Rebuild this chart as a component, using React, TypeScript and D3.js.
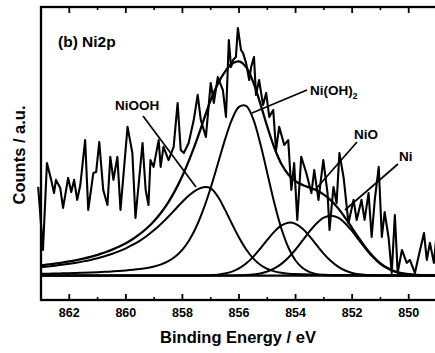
import React from 'react';
import * as d3 from 'd3';

// Fit grid (binding energy, eV)
const energies = [
  863, 862.75, 862.5, 862.25, 862, 861.75, 861.5, 861.25,
  861, 860.75, 860.5, 860.25, 860, 859.75, 859.5, 859.25,
  859, 858.75, 858.5, 858.25, 858, 857.75, 857.5, 857.25,
  857, 856.75, 856.5, 856.25, 856, 855.75, 855.5, 855.25,
  855, 854.75, 854.5, 854.25, 854, 853.75, 853.5, 853.25,
  853, 852.75, 852.5, 852.25, 852, 851.75, 851.5, 851.25,
  851, 850.75, 850.5, 850.25, 850, 849.75, 849.5, 849.25,
  849,
];

const nioohFit = [
  3.46, 3.75, 4.07, 4.42, 4.83, 5.29, 5.82, 6.42,
  7.11, 7.91, 8.83, 9.91, 11.17, 12.64, 14.35, 16.34,
  18.63, 21.24, 24.12, 27.19, 30.25, 33.01, 35.11, 36.2,
  35.7, 32.4, 27.1, 21.2, 15.6, 10.8, 7.07, 4.46,
  2.76, 1.73, 1.13, 0.8, 0.61, 0.5, 0.42, 0.37,
  0.33, 0.29, 0.26, 0.24, 0.21, 0.2, 0.18, 0.17,
  0.15, 0.14, 0.13, 0.12, 0.11, 0.1, 0.1, 0.09,
  0.09,
];

const niohFit = [
  0.74, 0.8, 0.85, 0.92, 0.99, 1.08, 1.17, 1.28,
  1.4, 1.53, 1.69, 1.88, 2.1, 2.37, 2.7, 3.14,
  3.74, 4.6, 5.89, 7.81, 10.64, 14.7, 20.2, 27.4,
  36.0, 45.7, 55.5, 63.9, 69.1, 69.5, 64.2, 54.2,
  41.95, 29.7, 19.2, 11.4, 6.19, 3.07, 1.4, 0.58,
  0.22, 0.08, 0.02, 0, 0, 0, 0, 0,
  0, 0, 0, 0, 0, 0, 0, 0,
  0,
];

const nioFit = [
  0, 0, 0, 0, 0, 0, 0, 0,
  0, 0, 0, 0, 0, 0, 0, 0,
  0, 0, 0, 0, 0, 0, 0, 0.07,
  0.17, 0.39, 0.83, 1.62, 2.94, 4.92, 7.65, 10.99,
  14.62, 18.0, 20.53, 21.67, 21.17, 19.15, 16.04, 12.43,
  8.92, 5.93, 3.65, 2.07, 1.09, 0.53, 0.24, 0.1,
  0, 0, 0, 0, 0, 0, 0, 0,
  0,
];

const niFit = [
  0, 0, 0, 0, 0, 0, 0, 0,
  0, 0, 0, 0, 0, 0, 0, 0,
  0, 0, 0, 0, 0, 0, 0, 0,
  0, 0, 0, 0.04, 0.09, 0.2, 0.44, 0.88,
  1.66, 2.92, 4.81, 7.41, 10.68, 14.4, 18.17, 21.45,
  23.7, 24.5, 23.7, 21.45, 18.17, 14.4, 10.68, 7.41,
  4.81, 2.92, 1.66, 0.88, 0.44, 0.2, 0.09, 0.04,
  0.01,
];

// Raw spectrum
const rawEnergy = [
  863.1, 862.93, 862.79, 862.64, 862.54, 862.47, 862.32, 862.22, 862.04, 861.93,
  861.83, 861.72, 861.61, 861.44, 861.33, 861.15, 861.05, 860.94, 860.8, 860.65,
  860.55, 860.44, 860.3, 860.19, 859.94, 859.77, 859.66, 859.41, 859.3, 859.2,
  859.13, 859.02, 858.84, 858.77, 858.67, 858.49, 858.31, 858.17, 858.06, 857.95,
  857.78, 857.6, 857.46, 857.35, 857.17, 857.0, 856.89, 856.75, 856.57, 856.46,
  856.36, 856.28, 856.21, 856.11, 856.04, 855.93, 855.86, 855.75, 855.64, 855.57,
  855.47, 855.4, 855.29, 855.15, 855.04, 854.93, 854.79, 854.69, 854.58, 854.4,
  854.26, 854.15, 854.05, 853.94, 853.8, 853.62, 853.44, 853.34, 853.19, 853.02,
  852.87, 852.8, 852.66, 852.55, 852.45, 852.3, 852.13, 851.95, 851.84, 851.67,
  851.56, 851.42, 851.31, 851.2, 851.06, 850.95, 850.85, 850.71, 850.6, 850.49,
  850.39, 850.24, 850.07, 849.96, 849.78, 849.64, 849.46, 849.36, 849.25, 849.11,
  849.0,
];
const rawCounts = [
  36.3, 10.5, 46.1, 39.2, 33.8, 39.2, 35.9, 27.7, 40.0, 34.2,
  39.2, 31.0, 37.1, 55.5, 26.9, 42.0, 42.4, 54.7, 35.1, 28.9,
  48.6, 39.2, 48.6, 26.9, 60.9, 50.2, 23.6, 54.3, 35.1, 28.9,
  47.3, 44.5, 55.5, 44.5, 52.7, 47.3, 52.7, 70.7, 51.4, 50.2,
  54.3, 63.7, 74.0, 63.7, 56.8, 78.9, 70.7, 81.3, 76.0, 65.0,
  96.5, 85.4, 88.3, 89.5, 101.4, 92.4, 91.2, 87.1, 80.1, 85.4,
  89.5, 74.0, 80.1, 69.9, 74.8, 65.0, 67.8, 51.4, 60.9, 53.5,
  55.5, 35.1, 46.1, 22.8, 48.6, 42.0, 33.8, 43.2, 31.0, 47.3,
  33.8, 18.7, 36.3, 29.7, 50.2, 40.0, 21.5, 31.0, 22.8, 31.0,
  22.8, 33.8, 15.8, 31.0, 44.5, 15.8, 26.0, 15.4, 1.1, 24.8,
  1.1, 10.5, 5.2, 6.4, 1.1, 8.4, 17.4, 6.4, 13.4, 5.2,
  18.7,
];

const majorTicks = [862, 860, 858, 856, 854, 852, 850];
const minorTicks = [861, 859, 857, 855, 853, 851];

const FONT = "'Liberation Sans', Arial, Helvetica, sans-serif";

export default function App() {
  const x = d3.scaleLinear().domain([863, 849]).range([41, 437]);
  const y = d3.scaleLinear().domain([-10, 110]).range([300, 7]);

  const envelope = energies.map((_, i) => nioohFit[i] + niohFit[i] + nioFit[i] + niFit[i]);

  const smooth = d3
    .line<number>()
    .x((_, i) => x(energies[i]))
    .y((d) => y(d))
    .curve(d3.curveCatmullRom.alpha(0.5));

  const raw = d3
    .line<number>()
    .x((_, i) => x(rawEnergy[i]))
    .y((d) => y(d));

  const x0 = 41, x1 = 437, yTop = 7, yBot = 300;

  return (
    <svg
      width={435}
      height={353}
      style={{ position: 'absolute', left: 0, top: 0, background: '#fff' }}
      fontFamily={FONT}
    >
      <rect x={0} y={0} width={435} height={353} fill="#fff" />
      {/* baseline */}
      <line x1={x0} x2={x1} y1={y(0)} y2={y(0)} stroke="#000" strokeWidth={2.2} />
      {/* fitted components */}
      {[nioohFit, niohFit, nioFit, niFit].map((s, k) => (
        <path key={k} d={smooth(s) || ''} fill="none" stroke="#000" strokeWidth={2} />
      ))}
      <path d={smooth(envelope) || ''} fill="none" stroke="#000" strokeWidth={2.3} />
      {/* raw data */}
      <path d={raw(rawCounts) || ''} fill="none" stroke="#000" strokeWidth={2.1} strokeLinejoin="round" />

      {/* frame */}
      <rect x={x0} y={yTop} width={x1 - x0} height={yBot - yTop} fill="none" stroke="#000" strokeWidth={2.3} />
      {majorTicks.map((t) => (
        <g key={'M' + t}>
          <line x1={x(t)} x2={x(t)} y1={yBot} y2={yBot - 6} stroke="#000" strokeWidth={1.8} />
          <line x1={x(t)} x2={x(t)} y1={yTop} y2={yTop + 6} stroke="#000" strokeWidth={1.8} />
          <text x={x(t)} y={317} textAnchor="middle" fontSize={12.5} fontWeight="bold">
            {t}
          </text>
        </g>
      ))}
      {minorTicks.map((t) => (
        <g key={'m' + t}>
          <line x1={x(t)} x2={x(t)} y1={yBot} y2={yBot - 3} stroke="#000" strokeWidth={1.6} />
          <line x1={x(t)} x2={x(t)} y1={yTop} y2={yTop + 3} stroke="#000" strokeWidth={1.6} />
        </g>
      ))}

      {/* axis titles */}
      <text x={238} y={343} textAnchor="middle" fontSize={16.5} fontWeight="bold">
        Binding Energy / eV
      </text>
      <text
        transform="translate(25,155) rotate(-90)"
        textAnchor="middle"
        fontSize={16.5}
        fontWeight="bold"
      >
        Counts / a.u.
      </text>

      {/* panel label */}
      <text x={58} y={47} fontSize={15.5} fontWeight="bold">
        (b) Ni2p
      </text>

      {/* peak labels */}
      <text x={115} y={110} fontSize={13.5} fontWeight="bold">NiOOH</text>
      <line x1={143} y1={116} x2={196} y2={187} stroke="#000" strokeWidth={1.7} />

      <text x={310} y={95} fontSize={13.5} fontWeight="bold">
        Ni(OH)<tspan fontSize={8.5} dy={4}>2</tspan>
      </text>
      <line x1={307} y1={90} x2={252} y2={113} stroke="#000" strokeWidth={1.7} />

      <text x={354} y={139} fontSize={13.5} fontWeight="bold">NiO</text>
      <line x1={357} y1={142} x2={315} y2={190} stroke="#000" strokeWidth={1.7} />

      <text x={399} y={161} fontSize={13.5} fontWeight="bold">Ni</text>
      <line x1={398} y1={164} x2={345} y2={210} stroke="#000" strokeWidth={1.7} />
    </svg>
  );
}
